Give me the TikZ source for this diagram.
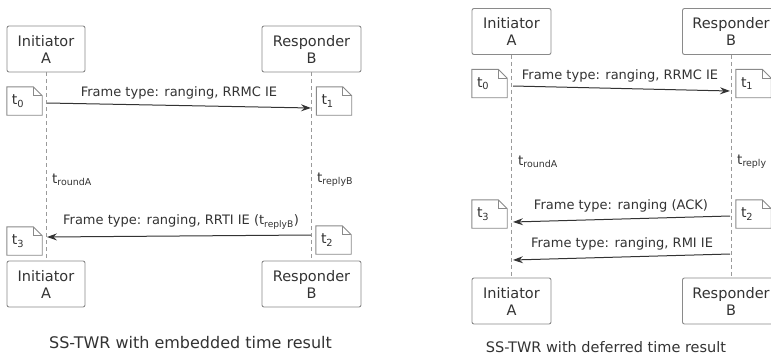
\documentclass[tikz,border=0pt]{standalone}
\usepackage{fontspec}
\setmainfont{DejaVu Sans}
\usetikzlibrary{arrows.meta}
\definecolor{txt}{HTML}{333333}
\definecolor{boxline}{HTML}{8A8A8A}
\definecolor{lifeline}{HTML}{9A9A9A}
\tikzset{
  partbox/.style={draw=boxline, line width=0.9pt, rounded corners=2pt, fill=white,
    minimum height=46pt, align=center, inner sep=2pt, text=txt,
    font=\fontsize{14.5}{17}\selectfont},
  lifel/.style={draw=lifeline, line width=0.8pt, dash pattern=on 4pt off 3pt},
  msg/.style={draw=txt, line width=1pt, -{Stealth[length=10pt,width=7pt,inset=3.5pt]}},
  msglabel/.style={text=txt, font=\fontsize{13}{15}\selectfont, inner sep=0pt},
  notestyle/.style={minimum width=35pt, minimum height=28pt, inner sep=0pt, text width=27pt,
    align=left, text=txt, font=\fontsize{14}{16}\selectfont},
  noteline/.style={draw=boxline, line width=0.9pt, line join=miter},
  timelabel/.style={text=txt, font=\fontsize{13.5}{16}\selectfont, anchor=west, inner sep=0pt},
  caption/.style={text=txt, inner sep=0pt}
}
\newcommand\notebox[3]{%
  \node[notestyle] (#1) at (#2) {\hspace*{1pt}#3};
  \draw[noteline] (#1.south west) -- (#1.north west) -- ([xshift=-9pt]#1.north east)
    -- ([yshift=-9pt]#1.north east) -- (#1.south east) -- cycle;
  \draw[noteline] ([xshift=-9pt]#1.north east) |- ([yshift=-9pt]#1.north east);
}
\newcommand\tsub[1]{t\textsubscript{#1}}
\begin{document}
\begin{tikzpicture}[x=1pt,y=-1pt]
\useasboundingbox[fill=white] (0,0) rectangle (771,362);
\clip (0,0) rectangle (771,362);
% ---------------- Left diagram ----------------
\node[partbox, minimum width=78pt] (lAt) at (46,49) {Initiator\\A};
\node[partbox, minimum width=99pt] (lBt) at (311.5,49) {Responder\\B};
\node[partbox, minimum width=78pt] (lAb) at (46,284) {Initiator\\A};
\node[partbox, minimum width=99pt] (lBb) at (311.5,284) {Responder\\B};
\draw[lifel] (lAt.south) -- (lAb.north);
\draw[lifel] (lBt.south) -- (lBb.north);
\notebox{lt0}{24.5,101}{\tsub{0}}
\notebox{lt1}{334,101}{\tsub{1}}
\notebox{lt3}{24.5,241}{\tsub{3}}
\notebox{lt2}{333.5,240}{\tsub{2}}
\coordinate (lm1s) at (47,103);
\coordinate (lm1e) at (311,108);
\draw[msg] (lm1s) -- (lm1e);
\node[msglabel] (lm1l) at (179,93) {Frame type: ranging, RRMC IE};
\coordinate (lm2s) at (311,235);
\coordinate (lm2e) at (47,237);
\draw[msg] (lm2s) -- (lm2e);
\node[msglabel] (lm2l) at (181,222) {Frame type: ranging, RRTI IE (\tsub{replyB})};
\node[timelabel] (lround) at (52,180) {\tsub{roundA}};
\node[timelabel] (lreply) at (317,180) {\tsub{replyB}};
\node[caption, font=\fontsize{16}{19}\selectfont] (lcap) at (190.5,343) {SS-TWR with embedded time result};
% ---------------- Right diagram ----------------
\node[partbox, minimum width=79pt] (rAt) at (511.5,31.5) {Initiator\\A};
\node[partbox, minimum width=97pt] (rBt) at (731,31.5) {Responder\\B};
\node[partbox, minimum width=79pt] (rAb) at (511.5,301) {Initiator\\A};
\node[partbox, minimum width=97pt] (rBb) at (731,301) {Responder\\B};
\draw[lifel] (rAt.south) -- (rAb.north);
\draw[lifel] (rBt.south) -- (rBb.north);
\notebox{rt0}{489.5,83.5}{\tsub{0}}
\notebox{rt1}{753.5,83.5}{\tsub{1}}
\notebox{rt3}{489.5,214}{\tsub{3}}
\notebox{rt2}{753.5,214}{\tsub{2}}
\coordinate (rm1s) at (513,86);
\coordinate (rm1e) at (730,91);
\draw[msg] (rm1s) -- (rm1e);
\node[msglabel] (rm1l) at (620,76) {Frame type: ranging, RRMC IE};
\coordinate (rm2s) at (730,216);
\coordinate (rm2e) at (513,222);
\draw[msg] (rm2s) -- (rm2e);
\node[msglabel] (rm2l) at (621,206) {Frame type: ranging (ACK)};
\coordinate (rm3s) at (730,254);
\coordinate (rm3e) at (513,260);
\draw[msg] (rm3s) -- (rm3e);
\node[msglabel] (rm3l) at (622,244) {Frame type: ranging, RMI IE};
\node[timelabel] (rround) at (518,162) {\tsub{roundA}};
\node[timelabel] (rreply) at (737,162) {\tsub{reply}};
\node[caption, font=\fontsize{14.5}{17}\selectfont] (rcap) at (606,347) {SS-TWR with deferred time result};
\end{tikzpicture}
\end{document}
